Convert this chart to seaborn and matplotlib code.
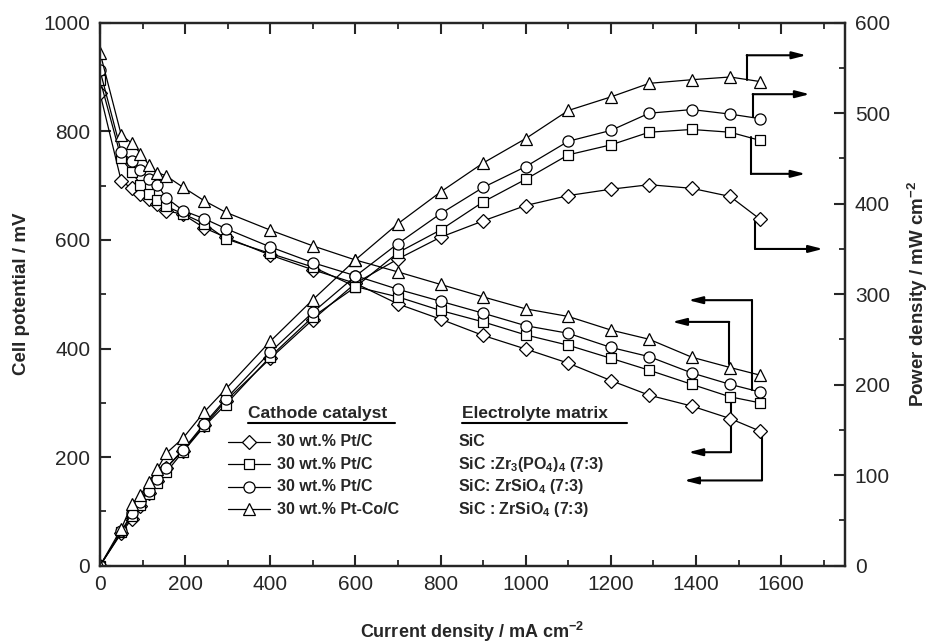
import numpy as np
import pandas as pd
import matplotlib
matplotlib.use('Agg')
import matplotlib.pyplot as plt
import seaborn as sns

# current density (mA cm-2), shared by all four cells
current = [0, 50, 75, 95, 115, 135, 155, 195, 245, 295, 400, 500, 600, 700,
           800, 900, 1000, 1100, 1200, 1290, 1390, 1480, 1550]

# cell potential (mV)
v_ptc_sic = [870, 708, 695, 684, 675, 666, 654, 647, 622, 605, 572, 545, 520, 482,
             454, 424, 399, 373, 341, 314, 294, 271, 248]
v_ptc_zrp = [895, 750, 725, 702, 685, 673, 662, 648, 630, 602, 575, 550, 514, 495,
             470, 449, 425, 406, 382, 360, 334, 311, 300]
v_ptc_zrs = [912, 762, 746, 729, 712, 701, 678, 654, 639, 621, 587, 558, 534, 509,
             487, 465, 442, 428, 402, 385, 355, 334, 320]
v_ptco_zrs = [945, 793, 778, 759, 738, 724, 718, 697, 672, 651, 618, 589, 563, 541,
              518, 495, 473, 459, 434, 417, 384, 365, 351]

# power density (mW cm-2)
p_ptc_sic = [0, 36, 52, 66, 80, 94, 108, 127, 155, 182, 229, 272, 312, 339,
             363, 381, 398, 409, 416, 421, 417, 408, 383]
p_ptc_zrp = [0, 37, 55, 67, 79, 91, 103, 126, 154, 178, 231, 275, 308, 346,
             371, 402, 427, 454, 465, 479, 482, 479, 470]
p_ptc_zrs = [0, 38, 58, 70, 83, 96, 108, 128, 157, 184, 236, 280, 320, 356,
             389, 418, 441, 469, 481, 500, 504, 499, 494]
p_ptco_zrs = [0, 41, 68, 78, 93, 107, 124, 141, 170, 195, 248, 294, 338, 378,
              413, 445, 472, 503, 518, 533, 537, 540, 535]

catalysts = ['30 wt.% Pt/C', '30 wt.% Pt/C', '30 wt.% Pt/C', '30 wt.% Pt-Co/C']
electrolytes = ['SiC', 'SiC :Zr$_3$(PO$_4$)$_4$ (7:3)', 'SiC: ZrSiO$_4$ (7:3)',
                'SiC : ZrSiO$_4$ (7:3)']
markers = ['D', 's', 'o', '^']
msizes = [7, 6.5, 8, 9]
volt = [v_ptc_sic, v_ptc_zrp, v_ptc_zrs, v_ptco_zrs]
power = [p_ptc_sic, p_ptc_zrp, p_ptc_zrs, p_ptco_zrs]

sns.set_style('ticks')
plt.rcParams['font.family'] = ['Liberation Sans', 'DejaVu Sans']
plt.rcParams['mathtext.fontset'] = 'custom'
plt.rcParams['mathtext.bf'] = 'Liberation Sans:bold'
plt.rcParams['mathtext.rm'] = 'Liberation Sans:bold'
plt.rcParams['mathtext.default'] = 'bf'

fig = plt.figure(figsize=(9.32, 6.43), dpi=100)
ax = fig.add_axes([0.1073, 0.1202, 0.7994, 0.8445])
ax2 = ax.twinx()

for i in range(4):
    df = pd.DataFrame({'i': current, 'v': volt[i], 'p': power[i]})
    style = dict(color='black', lw=0.9, marker=markers[i], markersize=msizes[i],
                 markerfacecolor='white', markeredgecolor='black',
                 markeredgewidth=0.9, estimator=None)
    sns.lineplot(data=df, x='i', y='v', ax=ax, **style)
    sns.lineplot(data=df, x='i', y='p', ax=ax2, **style)

ax.set_xlim(0, 1750)
ax.set_ylim(0, 1000)
ax2.set_ylim(0, 600)

ax.set_xticks(np.arange(0, 1601, 200))
ax.set_xticks(np.arange(0, 1751, 100), minor=True)
ax.set_yticks(np.arange(0, 1001, 200))
ax.set_yticks(np.arange(0, 1001, 100), minor=True)
ax2.set_yticks(np.arange(0, 601, 100))
ax2.set_yticks(np.arange(0, 601, 50), minor=True)

ax.tick_params(axis='x', which='both', direction='in', top=True, labelsize=15, pad=7)
ax.tick_params(axis='y', which='both', direction='in', right=False, labelsize=15, pad=7)
ax.tick_params(which='major', length=8, width=1.5)
ax.tick_params(which='minor', length=4, width=1.3)
ax2.tick_params(axis='y', which='both', direction='in', labelsize=15, pad=7)
ax2.tick_params(which='major', length=8, width=1.5)
ax2.tick_params(which='minor', length=4, width=1.3)

for a in (ax, ax2):
    for s in a.spines.values():
        s.set_linewidth(1.6)
        s.set_visible(True)

ax.set_xlabel('Current density / mA cm$^{-2}$', fontsize=13, fontweight='bold')
ax.set_ylabel('Cell potential / mV', fontsize=13.5, fontweight='bold')
ax2.set_ylabel('Power density / mW cm$^{-2}$', fontsize=13.5, fontweight='bold')
for lab in (ax.xaxis.label, ax.yaxis.label, ax2.yaxis.label):
    lab.set_va('center')
    lab.set_ha('center')
ax.xaxis.set_label_coords(0.5, -0.122)
ax.yaxis.set_label_coords(-0.105, 0.5)
ax2.yaxis.set_label_coords(1.098, 0.5)

# guide arrows: (start x, start y, corner y, arrow end x)
power_arrows = [(1519, 537, 564, 1659), (1533, 496, 521, 1667),
                (1529, 474, 433, 1657), (1539, 383, 350, 1698)]
volt_arrows = [(1478, 372, 449, 1344), (1531, 324, 489, 1382),
               (1482, 300, 209, 1382), (1555, 248, 157, 1372)]
arrow_kw = dict(arrowstyle='-|>,head_length=0.7,head_width=0.18', lw=1.5,
                color='black', mutation_scale=12, shrinkA=0, shrinkB=0)
for a, arrows in ((ax2, power_arrows), (ax, volt_arrows)):
    for x0, y0, y1, x1 in arrows:
        a.plot([x0, x0], [y0, y1], color='black', lw=1.5, zorder=1)
        a.annotate('', xy=(x1, y1), xytext=(x0, y1), arrowprops=arrow_kw)

# hand-made legend table
hdr_y = 0.2794
ax.text(0.199, hdr_y, 'Cathode catalyst', transform=ax.transAxes, fontsize=12.5,
        fontweight='bold', va='center', ha='left')
ax.text(0.4863, hdr_y, 'Electrolyte matrix', transform=ax.transAxes, fontsize=12.5,
        fontweight='bold', va='center', ha='left')
ax.plot([0.199, 0.396], [0.2622, 0.2622], transform=ax.transAxes, color='black', lw=1.5)
ax.plot([0.4863, 0.7074], [0.2622, 0.2622], transform=ax.transAxes, color='black', lw=1.5)
row_y = [0.2284, 0.1873, 0.1455, 0.1039]
for i in range(4):
    ax.plot([0.1722, 0.2282], [row_y[i], row_y[i]], transform=ax.transAxes,
            color='black', lw=0.9)
    ax.plot([0.2004], [row_y[i]], transform=ax.transAxes, marker=markers[i],
            markersize=msizes[i], mfc='white', mec='black', mew=0.9)
    ax.text(0.2372, row_y[i], catalysts[i], transform=ax.transAxes, fontsize=11.5,
            fontweight='bold', va='center', ha='left')
    ax.text(0.481, row_y[i], electrolytes[i], transform=ax.transAxes, fontsize=11.5,
            fontweight='bold', va='center', ha='left')

fig.savefig('out.png', dpi=100)
